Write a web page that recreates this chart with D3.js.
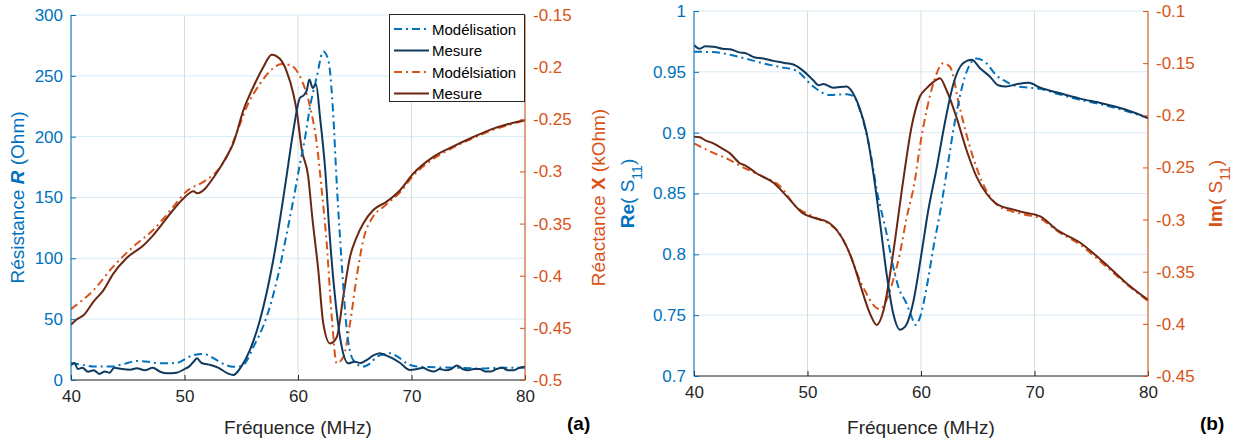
<!DOCTYPE html>
<html><head><meta charset="utf-8">
<script src="https://cdn.jsdelivr.net/npm/d3@7"></script>
<style>body{margin:0;background:#fff}text{font-family:"Liberation Sans",Arial,Helvetica,sans-serif}</style>
</head><body><svg id="c" width="1238" height="441"></svg>
<script>
// ---------- tick labels ----------
const freqTicks = [40, 50, 60, 70, 80];
const aLeftTicks = [0, 50, 100, 150, 200, 250, 300];
const aRightTicks = [-0.5, -0.45, -0.4, -0.35, -0.3, -0.25, -0.2, -0.15];
const bLeftTicks = [0.7, 0.75, 0.8, 0.85, 0.9, 0.95, 1];
const bRightTicks = [-0.45, -0.4, -0.35, -0.3, -0.25, -0.2, -0.15, -0.1];
const legendLabels = ["Modélisation", "Mesure", "Modélsiation", "Mesure"];

// ---------- panel (a): resistance R (Ohm) ----------
const aModelRf = [40,41,41.97,43.44,44.6,45.79,46.8,47.84,49.3,50.2,50.78,51.66,52.84,53.6,54.3,55.04,55.5,56.06,56.6,57.24,57.82,58.41,59.0,59.59,60.18,60.6,61.06,61.65,62.23,62.67,63.1,63.4,63.85,64.3,64.87,65.75,66.4,66.93,67.5,68.1,68.8,69.58,70.5,72,74,76,78,80];
const aModelR  = [14,12.5,11,11,13,15.6,15,13.7,14,18,20.5,21.4,16.4,12.5,10.9,11.5,16,27,37,52,70,93,120,148,178,198,224.6,249,270,263,219,164,96,41,16.4,11,14,19,21,22,19,13.7,11,10.5,10,9.5,10,10];
const aMeasRf  = [40,40.3,40.6,41,41.5,42,42.5,43,43.4,43.8,44.5,45.2,45.8,46.5,47.2,47.85,48.5,49.3,50,50.4,50.8,51.1,51.5,52.3,53,53.8,54.3,55,55.77,56.65,57.82,59.0,59.59,60.18,60.5,60.77,61.0,61.3,61.59,61.94,62.4,62.8,63.26,63.85,64.43,65,65.5,66.05,66.6,67.2,67.8,68.3,69,69.87,70.5,71,71.5,72,72.5,73,73.5,74,74.5,75,75.5,76,76.5,77,77.5,78,78.5,79,79.5,80];
const aMeasR   = [12,14,9,10,6.8,8,5,7,6,10,9,8.5,9.6,8,10,6.8,5.5,6,9,11,15,17.8,14,12.3,10,5.5,4.1,11,24.7,49.3,98.6,168,205,232,234,238,247,240,243,216,172.6,117.8,68.5,27.4,13.7,15,14,16.4,20,22,20,18,14,8.2,9,10,8,7,9,8,9,12,9,8,9,9,7,7,9,10,8,8,10,11];
// ---------- panel (a): reactance X (kOhm) ----------
const aModelXf = [40,41.97,43.73,45.5,47.25,49.0,50.19,51.66,52.84,53.72,54.6,55.48,56.65,57.82,58.56,59.3,60.18,61.06,61.65,62.09,62.53,62.97,63.41,63.99,64.58,65.17,65.75,66.63,67.52,68.99,70.16,71.92,73.68,75.45,77.2,78.39,80];
const aModelX  = [-0.432,-0.414,-0.391,-0.372,-0.356,-0.334,-0.319,-0.310,-0.300,-0.286,-0.263,-0.238,-0.216,-0.201,-0.197,-0.198,-0.209,-0.238,-0.273,-0.318,-0.369,-0.439,-0.484,-0.478,-0.446,-0.401,-0.366,-0.343,-0.334,-0.320,-0.304,-0.288,-0.277,-0.268,-0.260,-0.256,-0.251];
const aMeasXf  = [40,40.5,41.1,41.97,42.85,43.73,44.9,46.37,47.25,49.0,49.9,50.8,51.1,52.8,53.7,54.3,55.2,56.06,56.94,57.68,58.4,59.0,59.6,59.9,60.33,60.9,61.25,61.79,62.23,62.82,63.41,63.99,64.58,65.17,65.75,66.63,67.81,68.99,70.16,71.92,73.68,75.45,77.2,78.39,80];
const aMeasX   = [-0.447,-0.442,-0.438,-0.425,-0.414,-0.398,-0.383,-0.371,-0.361,-0.337,-0.326,-0.319,-0.321,-0.302,-0.286,-0.273,-0.241,-0.219,-0.200,-0.188,-0.192,-0.204,-0.226,-0.243,-0.279,-0.305,-0.343,-0.395,-0.446,-0.465,-0.459,-0.420,-0.382,-0.363,-0.350,-0.337,-0.329,-0.318,-0.302,-0.286,-0.276,-0.267,-0.259,-0.255,-0.251];

// ---------- panel (b): Re(S11) ----------
const bModelRef = [40,42,43.17,44.5,46.1,47.58,49.0,50.5,51.96,53.45,54.04,54.7,55.5,56.1,56.97,57.55,58.0,58.7,59.2,59.5,59.9,60.5,61.1,61.67,62.25,63.0,63.87,64.9,65.77,66.65,67.5,68.5,69.5,70.5,72,74,76,78,80];
const bModelRe  = [0.9666,0.966,0.964,0.961,0.957,0.954,0.951,0.938,0.931,0.9316,0.930,0.916,0.886,0.853,0.817,0.790,0.7734,0.760,0.748,0.742,0.748,0.773,0.806,0.834,0.867,0.910,0.946,0.961,0.957,0.947,0.942,0.938,0.937,0.936,0.932,0.927,0.923,0.918,0.912];
const bMeasRef  = [40,40.5,41,41.7,42.5,43.17,44,44.64,45.3,46.1,47,47.58,48.2,48.75,49.6,50.51,51.0,51.4,52.27,53.45,54.04,54.6,55.2,55.8,56.4,56.97,57.55,58.15,58.6,59.3,60.05,60.6,61.4,62.1,62.85,63.7,64.47,65.2,66.08,66.8,67.5,68.5,69.5,70.5,72,74,76,78,80];
const bMeasRe   = [0.972,0.969,0.971,0.9707,0.969,0.9685,0.966,0.965,0.962,0.961,0.959,0.958,0.957,0.956,0.951,0.943,0.939,0.940,0.937,0.938,0.932,0.920,0.900,0.867,0.8255,0.784,0.7515,0.738,0.7405,0.760,0.801,0.834,0.872,0.908,0.940,0.957,0.960,0.953,0.946,0.939,0.938,0.940,0.941,0.937,0.933,0.928,0.924,0.919,0.912];
// ---------- panel (b): Im(S11) ----------
const bModelImf = [40,41.5,43.17,44.5,46.1,47.58,49,50.5,52,52.8,53.7,54.6,55.2,55.5,56.1,56.4,56.97,57.55,58.15,58.7,59.47,59.9,60.5,61.1,61.97,62.55,63.4,64.3,65.2,66.08,66.96,68,69,70.5,72,74,76,78,80];
const bModelIm  = [-0.227,-0.235,-0.243,-0.251,-0.259,-0.268,-0.2877,-0.297,-0.305,-0.313,-0.332,-0.358,-0.371,-0.377,-0.385,-0.386,-0.377,-0.358,-0.332,-0.300,-0.262,-0.230,-0.195,-0.169,-0.150,-0.1535,-0.192,-0.230,-0.259,-0.278,-0.288,-0.292,-0.295,-0.299,-0.311,-0.324,-0.342,-0.361,-0.378];
const bMeasImf  = [40,40.5,41,41.7,42.5,43.17,44.05,44.5,45.5,47,48.2,49.6,50.5,51.1,51.5,52.57,53.45,54.04,54.6,55.5,56.1,56.7,57.55,58.4,59.17,59.9,60.5,61.1,61.67,62.25,63.1,64.0,64.9,65.77,66.8,68,69,70.5,72,74,76,78,80];
const bMeasIm   = [-0.2205,-0.221,-0.224,-0.227,-0.232,-0.2365,-0.246,-0.248,-0.2556,-0.2647,-0.278,-0.294,-0.298,-0.300,-0.301,-0.310,-0.326,-0.342,-0.361,-0.390,-0.401,-0.387,-0.332,-0.265,-0.211,-0.182,-0.174,-0.168,-0.1645,-0.176,-0.201,-0.233,-0.259,-0.275,-0.286,-0.290,-0.293,-0.297,-0.310,-0.322,-0.340,-0.360,-0.377];

// ---------- styles ----------
const C = {
  blue: "#0072BD", navy: "#0f3a60", orange: "#D95319", brown: "#6b2712",
  axisL: "#0072BD", axisR: "#D95319", dark: "#262626",
  gridH: "#d9eaf5", gridV: "#dcdcdc"
};
const dashDot = "8,4,2,4";
const svg = d3.select("#c");

function fmt(d){ return String(+d.toFixed(2)); }

function panel(o){
  const g = svg.append("g");
  const x = d3.scaleLinear().domain([40,80]).range([o.l, o.r]);
  const yL = d3.scaleLinear().domain(o.yLdom).range([o.b, o.t]);
  const yR = d3.scaleLinear().domain(o.yRdom).range([o.b, o.t]);
  // grid
  g.append("g").selectAll("line").data(o.yLticks).join("line")
    .attr("x1", o.l).attr("x2", o.r).attr("y1", d=>yL(d)).attr("y2", d=>yL(d))
    .attr("stroke", C.gridH).attr("stroke-width", 1);
  g.append("g").selectAll("line").data(freqTicks).join("line")
    .attr("x1", d=>x(d)).attr("x2", d=>x(d)).attr("y1", o.t).attr("y2", o.b)
    .attr("stroke", C.gridV).attr("stroke-width", 1);
  // series
  const clip = "clip" + o.id;
  svg.append("clipPath").attr("id", clip).append("rect")
    .attr("x", o.l).attr("y", o.t-2).attr("width", o.r-o.l).attr("height", o.b-o.t+2);
  const lg = g.append("g").attr("clip-path", `url(#${clip})`);
  o.series.forEach(s=>{
    const y = s.axis === "L" ? yL : yR;
    const line = d3.line().x(d=>x(d[0])).y(d=>y(d[1])).curve(d3.curveMonotoneX);
    lg.append("path").datum(d3.zip(s.f, s.v)).attr("d", line)
      .attr("fill","none").attr("stroke", s.color).attr("stroke-width", s.w || 2)
      .attr("stroke-dasharray", s.dash ? dashDot : null)
      .attr("stroke-linejoin","round");
  });
  // axes
  const ax = g.append("g").attr("transform", `translate(0,${o.b})`)
    .call(d3.axisBottom(x).tickValues(freqTicks).tickSize(-5).tickPadding(10).tickFormat(d3.format("d")));
  ax.select(".domain").attr("stroke", C.dark).attr("d", `M${o.l},0H${o.r}`);
  ax.selectAll(".tick line").attr("stroke", C.dark);
  ax.selectAll("text").attr("fill", C.dark).attr("font-size", 17);

  const al = g.append("g").attr("transform", `translate(${o.l},0)`)
    .call(d3.axisLeft(yL).tickValues(o.yLticks).tickSize(-5).tickPadding(8).tickFormat(fmt));
  al.select(".domain").attr("stroke", C.axisL).attr("d", `M0,${o.t}V${o.b}`);
  al.selectAll(".tick line").attr("stroke", C.axisL);
  al.selectAll("text").attr("fill", C.axisL).attr("font-size", 17);

  const ar = g.append("g").attr("transform", `translate(${o.r},0)`)
    .call(d3.axisRight(yR).tickValues(o.yRticks).tickSize(-5).tickPadding(8).tickFormat(fmt));
  ar.select(".domain").attr("stroke", C.axisR).attr("d", `M0,${o.t}V${o.b}`);
  ar.selectAll(".tick line").attr("stroke", C.axisR);
  ar.selectAll("text").attr("fill", C.axisR).attr("font-size", 17);
  svg.selectAll(".tick text").attr("font-family", '"Liberation Sans",Arial,sans-serif');

  // titles
  g.append("text").attr("x", (o.l+o.r)/2).attr("y", 434).attr("text-anchor","middle")
    .attr("font-size", 19).attr("fill", C.dark).text("Fréquence (MHz)");
  g.append("text").attr("x", o.tagX).attr("y", 430).attr("font-size", 19)
    .attr("font-weight","bold").attr("fill","#000").text(o.tag);
  function vtitle(cx, color, parts){
    const t = g.append("text").attr("transform", `translate(${cx},${(o.t+o.b)/2}) rotate(-90)`)
      .attr("text-anchor","middle").attr("font-size", 19).attr("fill", color);
    parts.forEach(p=>{
      const ts = t.append("tspan").text(p.t);
      if (p.b) ts.attr("font-weight","bold");
      if (p.i) ts.attr("font-style","italic");
      if (p.sub) ts.attr("baseline-shift","sub").attr("font-size", 14);
    });
  }
  vtitle(o.ltX, C.axisL, o.ltParts);
  vtitle(o.rtX, C.axisR, o.rtParts);
  return {x, yL, yR};
}

panel({
  id:"a", l:71, r:525, t:15, b:380,
  yLdom:[0,300], yRdom:[-0.5,-0.15], yLticks:aLeftTicks, yRticks:aRightTicks,
  series:[
    {f:aModelXf, v:aModelX, axis:"R", color:C.orange, dash:true},
    {f:aMeasXf, v:aMeasX, axis:"R", color:C.brown},
    {f:aModelRf, v:aModelR, axis:"L", color:C.blue, dash:true},
    {f:aMeasRf, v:aMeasR, axis:"L", color:C.navy}
  ],
  tag:"(a)", tagX:567,
  ltX:24, ltParts:[{t:"Résistance "},{t:"R",b:true,i:true},{t:" (Ohm)"}],
  rtX:605, rtParts:[{t:"Réactance "},{t:"X",b:true},{t:" (kOhm)"}]
});

panel({
  id:"b", l:694, r:1148, t:11, b:376,
  yLdom:[0.7,1], yRdom:[-0.45,-0.1], yLticks:bLeftTicks, yRticks:bRightTicks,
  series:[
    {f:bModelImf, v:bModelIm, axis:"R", color:C.orange, dash:true},
    {f:bMeasImf, v:bMeasIm, axis:"R", color:C.brown},
    {f:bModelRef, v:bModelRe, axis:"L", color:C.blue, dash:true},
    {f:bMeasRef, v:bMeasRe, axis:"L", color:C.navy}
  ],
  tag:"(b)", tagX:1200,
  ltX:634, ltParts:[{t:"Re",b:true},{t:"( S"},{t:"11",sub:true},{t:")"}],
  rtX:1222, rtParts:[{t:"Im",b:true},{t:"( S"},{t:"11",sub:true},{t:")"}]
});

// ---------- legend (panel a) ----------
const leg = svg.append("g");
const legColors = [C.blue, C.navy, C.orange, C.brown];
const legDash = [true, false, true, false];
leg.append("rect").attr("x", 389.5).attr("y", 14.5).attr("width", 135).attr("height", 87)
  .attr("fill","#fff").attr("stroke", C.dark).attr("stroke-width", 1);
legendLabels.forEach((lab,i)=>{
  const yy = 29 + i*21.5;
  leg.append("line").attr("x1", 394).attr("x2", 429).attr("y1", yy).attr("y2", yy)
    .attr("stroke", legColors[i]).attr("stroke-width", 2)
    .attr("stroke-dasharray", legDash[i] ? dashDot : null);
  leg.append("text").attr("x", 432).attr("y", yy+5.5).attr("font-size", 15)
    .attr("fill","#000").text(lab);
});
</script></body></html>
